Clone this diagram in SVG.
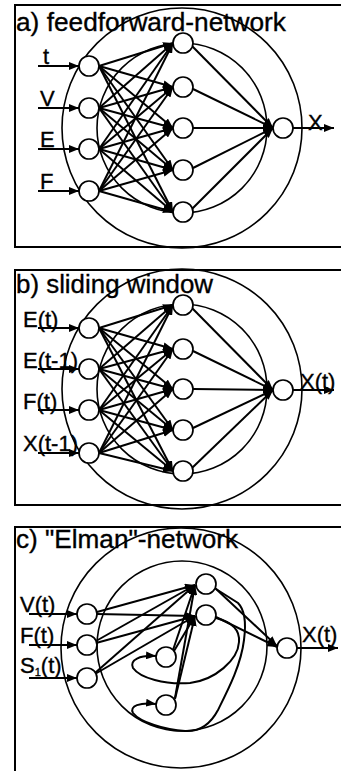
<svg xmlns="http://www.w3.org/2000/svg" width="341" height="771" viewBox="0 0 341 771">
<defs>
<marker id="ah" markerUnits="userSpaceOnUse" markerWidth="10" markerHeight="8" refX="10" refY="4" orient="auto">
<path d="M0,0 L10,4 L0,8 z" fill="#000"/>
</marker>
<style>
.frame{fill:none;stroke:#000;stroke-width:2}
.ring{fill:none;stroke:#000;stroke-width:1.6}
.node{fill:#fff;stroke:#000;stroke-width:1.7}
.e{stroke:#000;stroke-width:2;fill:none;marker-end:url(#ah)}
text{font-family:"Liberation Sans",Arial,sans-serif;fill:#000;stroke:#000;stroke-width:0.35}
.title{font-size:26px}
.lbl{font-size:22px}
</style>
</defs>
<rect width="341" height="771" fill="#fff"/>

<!-- Panel a -->
<g id="panel-a">
<rect class="frame" x="15" y="5" width="345" height="242"/>
<circle class="ring" cx="182" cy="128" r="120"/>
<circle class="ring" cx="182" cy="128" r="85"/>
</g>
<g id="connectors-a">
<line class="e" x1="38" y1="66" x2="79" y2="66"/>
<line class="e" x1="38" y1="108" x2="79" y2="108"/>
<line class="e" x1="38" y1="149" x2="79" y2="149"/>
<line class="e" x1="38" y1="191" x2="79" y2="191"/>
<line class="e" x1="99" y1="66" x2="173" y2="43"/>
<line class="e" x1="99" y1="66" x2="173" y2="87"/>
<line class="e" x1="99" y1="66" x2="173" y2="128"/>
<line class="e" x1="99" y1="66" x2="173" y2="170"/>
<line class="e" x1="99" y1="66" x2="173" y2="212"/>
<line class="e" x1="99" y1="108" x2="173" y2="43"/>
<line class="e" x1="99" y1="108" x2="173" y2="87"/>
<line class="e" x1="99" y1="108" x2="173" y2="128"/>
<line class="e" x1="99" y1="108" x2="173" y2="170"/>
<line class="e" x1="99" y1="108" x2="173" y2="212"/>
<line class="e" x1="99" y1="149" x2="173" y2="43"/>
<line class="e" x1="99" y1="149" x2="173" y2="87"/>
<line class="e" x1="99" y1="149" x2="173" y2="128"/>
<line class="e" x1="99" y1="149" x2="173" y2="170"/>
<line class="e" x1="99" y1="149" x2="173" y2="212"/>
<line class="e" x1="99" y1="191" x2="173" y2="43"/>
<line class="e" x1="99" y1="191" x2="173" y2="87"/>
<line class="e" x1="99" y1="191" x2="173" y2="128"/>
<line class="e" x1="99" y1="191" x2="173" y2="170"/>
<line class="e" x1="99" y1="191" x2="173" y2="212"/>
<line class="e" x1="192" y1="46" x2="273" y2="128"/>
<line class="e" x1="193" y1="89" x2="273" y2="128"/>
<line class="e" x1="193" y1="128" x2="273" y2="128"/>
<line class="e" x1="193" y1="168" x2="273" y2="128"/>
<line class="e" x1="192" y1="209" x2="273" y2="128"/>
<line class="e" x1="293" y1="128" x2="334" y2="128"/>
</g>
<g id="a-in-t"><circle class="node" cx="89" cy="66" r="10"/></g>
<g id="a-in-V"><circle class="node" cx="89" cy="108" r="10"/></g>
<g id="a-in-E"><circle class="node" cx="89" cy="149" r="10"/></g>
<g id="a-in-F"><circle class="node" cx="89" cy="191" r="10"/></g>
<g id="a-h1"><circle class="node" cx="183" cy="43" r="10"/></g>
<g id="a-h2"><circle class="node" cx="183" cy="87" r="10"/></g>
<g id="a-h3"><circle class="node" cx="183" cy="128" r="10"/></g>
<g id="a-h4"><circle class="node" cx="183" cy="170" r="10"/></g>
<g id="a-h5"><circle class="node" cx="183" cy="212" r="10"/></g>
<g id="a-out"><circle class="node" cx="283" cy="128" r="10"/></g>
<g id="labels-a">
<text class="title" x="16" y="31" textLength="270" lengthAdjust="spacingAndGlyphs">a) feedforward-network</text>
<text class="lbl" x="43" y="64">t</text>
<text class="lbl" x="40" y="106">V</text>
<text class="lbl" x="40" y="147">E</text>
<text class="lbl" x="40" y="189">F</text>
<text class="lbl" x="308" y="130">X</text>
</g>

<!-- Panel b -->
<g id="panel-b">
<rect class="frame" x="15" y="270" width="345" height="235"/>
<circle class="ring" cx="182" cy="389" r="120"/>
<circle class="ring" cx="182" cy="389" r="85"/>
</g>
<g id="connectors-b">
<line class="e" x1="38" y1="328" x2="79" y2="328"/>
<line class="e" x1="38" y1="369" x2="79" y2="369"/>
<line class="e" x1="38" y1="410" x2="79" y2="410"/>
<line class="e" x1="38" y1="453" x2="79" y2="453"/>
<line class="e" x1="99" y1="328" x2="173" y2="305"/>
<line class="e" x1="99" y1="328" x2="173" y2="349"/>
<line class="e" x1="99" y1="328" x2="173" y2="389"/>
<line class="e" x1="99" y1="328" x2="173" y2="430"/>
<line class="e" x1="99" y1="328" x2="173" y2="471"/>
<line class="e" x1="99" y1="369" x2="173" y2="305"/>
<line class="e" x1="99" y1="369" x2="173" y2="349"/>
<line class="e" x1="99" y1="369" x2="173" y2="389"/>
<line class="e" x1="99" y1="369" x2="173" y2="430"/>
<line class="e" x1="99" y1="369" x2="173" y2="471"/>
<line class="e" x1="99" y1="410" x2="173" y2="305"/>
<line class="e" x1="99" y1="410" x2="173" y2="349"/>
<line class="e" x1="99" y1="410" x2="173" y2="389"/>
<line class="e" x1="99" y1="410" x2="173" y2="430"/>
<line class="e" x1="99" y1="410" x2="173" y2="471"/>
<line class="e" x1="99" y1="453" x2="173" y2="305"/>
<line class="e" x1="99" y1="453" x2="173" y2="349"/>
<line class="e" x1="99" y1="453" x2="173" y2="389"/>
<line class="e" x1="99" y1="453" x2="173" y2="430"/>
<line class="e" x1="99" y1="453" x2="173" y2="471"/>
<line class="e" x1="192" y1="308" x2="273" y2="390"/>
<line class="e" x1="193" y1="351" x2="273" y2="390"/>
<line class="e" x1="193" y1="389" x2="273" y2="390"/>
<line class="e" x1="193" y1="428" x2="273" y2="390"/>
<line class="e" x1="192" y1="468" x2="273" y2="390"/>
<line class="e" x1="293" y1="390" x2="334" y2="390"/>
</g>
<g id="b-in-Et"><circle class="node" cx="89" cy="328" r="10"/></g>
<g id="b-in-Et1"><circle class="node" cx="89" cy="369" r="10"/></g>
<g id="b-in-Ft"><circle class="node" cx="89" cy="410" r="10"/></g>
<g id="b-in-Xt1"><circle class="node" cx="89" cy="453" r="10"/></g>
<g id="b-h1"><circle class="node" cx="183" cy="305" r="10"/></g>
<g id="b-h2"><circle class="node" cx="183" cy="349" r="10"/></g>
<g id="b-h3"><circle class="node" cx="183" cy="389" r="10"/></g>
<g id="b-h4"><circle class="node" cx="183" cy="430" r="10"/></g>
<g id="b-h5"><circle class="node" cx="183" cy="471" r="10"/></g>
<g id="b-out"><circle class="node" cx="283" cy="390" r="10"/></g>
<g id="labels-b">
<text class="title" x="16" y="293" textLength="197" lengthAdjust="spacingAndGlyphs">b) sliding window</text>
<text class="lbl" x="23" y="327">E(t)</text>
<text class="lbl" x="23" y="368">E(t-1)</text>
<text class="lbl" x="23" y="409">F(t)</text>
<text class="lbl" x="23" y="451">X(t-1)</text>
<text class="lbl" x="300" y="389">X(t)</text>
</g>

<!-- Panel c -->
<g id="panel-c">
<rect class="frame" x="15" y="527" width="345" height="260"/>
<circle class="ring" cx="181" cy="648" r="120"/>
<circle class="ring" cx="182" cy="646" r="85"/>
</g>
<g id="connectors-c">
<line class="e" x1="29" y1="614" x2="77" y2="614"/>
<line class="e" x1="29" y1="645" x2="77" y2="645"/>
<line class="e" x1="29" y1="678" x2="77" y2="678"/>
<line class="e" x1="97" y1="612" x2="195" y2="585"/>
<line class="e" x1="97" y1="614" x2="195" y2="616"/>
<line class="e" x1="96" y1="641" x2="195" y2="585"/>
<line class="e" x1="96" y1="643" x2="195" y2="616"/>
<line class="e" x1="95" y1="673" x2="195" y2="585"/>
<line class="e" x1="95" y1="674" x2="195" y2="616"/>
<line class="e" x1="173" y1="650" x2="195" y2="585"/>
<line class="e" x1="174" y1="651" x2="195" y2="616"/>
<line class="e" x1="175" y1="698" x2="195" y2="585"/>
<line class="e" x1="175" y1="699" x2="195" y2="616"/>
<line class="e" x1="215" y1="588" x2="277" y2="646"/>
<line class="e" x1="216" y1="617" x2="277" y2="647"/>
<path class="e" d="M216,618 C232,622 240,630 239,642 C238,660 215,680 190,683 C165,685 140,678 133,668 C129,660 140,655 156,656"/>
<path class="e" d="M216,589 L238,603 C245,610 246,625 244,640 C241,665 228,690 218,710 C210,725 200,732 185,731 C165,730 140,722 133,713 C129,706 140,702 156,704"/>
<line class="e" x1="297" y1="648" x2="338" y2="648"/>
</g>
<g id="c-in-V"><circle class="node" cx="87" cy="614" r="10"/></g>
<g id="c-in-F"><circle class="node" cx="87" cy="645" r="10"/></g>
<g id="c-in-S"><circle class="node" cx="87" cy="678" r="10"/></g>
<g id="c-h1"><circle class="node" cx="206" cy="584" r="10"/></g>
<g id="c-h2"><circle class="node" cx="206" cy="615" r="10"/></g>
<g id="c-ctx1"><circle class="node" cx="166" cy="657" r="10"/></g>
<g id="c-ctx2"><circle class="node" cx="166" cy="705" r="10"/></g>
<g id="c-out"><circle class="node" cx="287" cy="648" r="10"/></g>
<g id="labels-c">
<text class="title" x="16" y="548" textLength="222" lengthAdjust="spacingAndGlyphs">c) "Elman"-network</text>
<text class="lbl" x="20" y="612">V(t)</text>
<text class="lbl" x="20" y="643">F(t)</text>
<text class="lbl" x="20" y="673">S<tspan font-size="11" dy="3">1</tspan><tspan dy="-3">(t)</tspan></text>
<text class="lbl" x="302" y="642">X(t)</text>
</g>
</svg>
